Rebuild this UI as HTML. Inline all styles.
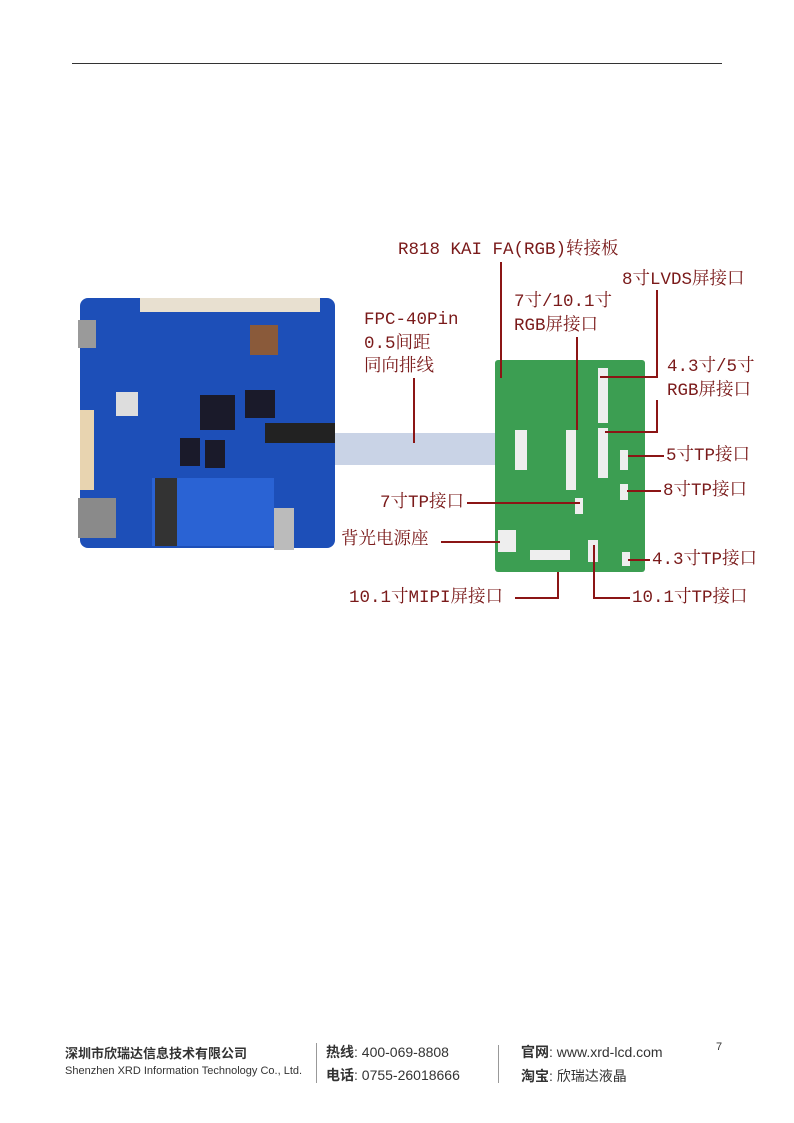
<!DOCTYPE html>
<html><head><meta charset="utf-8"><style>
body{margin:0;background:#fff;}
.pg{position:relative;width:794px;height:1123px;overflow:hidden;background:#fff;font-family:"Liberation Sans","Noto Sans CJK SC",sans-serif;}
.l{position:absolute;color:#7a1a1a;font-family:"Liberation Mono","Noto Serif CJK SC",serif;font-size:17.5px;line-height:20px;white-space:nowrap;}
.a{position:absolute;white-space:nowrap;}
</style></head><body><div class="pg">
<div style="position:absolute;left:72px;top:63px;width:650px;height:1px;background:#333"></div>

<svg style="position:absolute;left:0;top:0" width="794" height="1123">
<rect x="80" y="298" width="255" height="250" rx="8" fill="#1d4fb8"/>
<rect x="78" y="320" width="18" height="28" fill="#9a9a9a"/>
<rect x="78" y="498" width="38" height="40" fill="#8a8a8a"/>
<rect x="80" y="410" width="14" height="80" fill="#e8d4b0"/>
<rect x="140" y="298" width="180" height="14" fill="#e8e0d0"/>
<rect x="152" y="478" width="122" height="68" fill="#2a63d4"/>
<rect x="155" y="478" width="22" height="68" fill="#333"/>
<rect x="200" y="395" width="35" height="35" fill="#1a1a2a"/>
<rect x="245" y="390" width="30" height="28" fill="#1a1a2a"/>
<rect x="180" y="438" width="20" height="28" fill="#1a1a2a"/>
<rect x="205" y="440" width="20" height="28" fill="#1a1a2a"/>
<rect x="265" y="423" width="70" height="20" fill="#222"/>
<rect x="116" y="392" width="22" height="24" fill="#ddd"/>
<rect x="250" y="325" width="28" height="30" fill="#8a5a3a"/>
<rect x="274" y="508" width="20" height="42" fill="#bbb"/>
<rect x="335" y="433" width="180" height="32" fill="#c9d3e6"/>
<rect x="495" y="360" width="150" height="212" rx="3" fill="#3c9e52"/>
<rect x="515" y="430" width="12" height="40" fill="#eee"/>
<rect x="566" y="430" width="10" height="60" fill="#eee"/>
<rect x="598" y="368" width="10" height="55" fill="#eee"/>
<rect x="598" y="428" width="10" height="50" fill="#eee"/>
<rect x="620" y="450" width="8" height="20" fill="#eee"/>
<rect x="620" y="484" width="8" height="16" fill="#eee"/>
<rect x="575" y="498" width="8" height="16" fill="#eee"/>
<rect x="530" y="550" width="40" height="10" fill="#eee"/>
<rect x="498" y="530" width="18" height="22" fill="#eee"/>
<rect x="588" y="540" width="10" height="22" fill="#eee"/>
<rect x="622" y="552" width="8" height="14" fill="#eee"/>
<g stroke="#8b1515" stroke-width="2" fill="none">
<polyline points="501,262 501,378"/>
<polyline points="657,290 657,377 600,377"/>
<polyline points="577,337 577,430"/>
<polyline points="657,400 657,432 605,432"/>
<polyline points="414,378 414,443"/>
<polyline points="628,456 664,456"/>
<polyline points="627,491 661,491"/>
<polyline points="467,503 580,503"/>
<polyline points="441,542 500,542"/>
<polyline points="628,560 650,560"/>
<polyline points="515,598 558,598 558,572"/>
<polyline points="594,545 594,598 630,598"/>
</g>
</svg>

<div class="l" style="left:398px;top:240px">R818 KAI FA(RGB)转接板</div>
<div class="l" style="left:622px;top:270px">8寸LVDS屏接口</div>
<div class="l" style="left:514px;top:292px">7寸/10.1寸</div>
<div class="l" style="left:514px;top:316px">RGB屏接口</div>
<div class="l" style="left:364px;top:310px">FPC-40Pin</div>
<div class="l" style="left:364px;top:334px">0.5间距</div>
<div class="l" style="left:364px;top:357px">同向排线</div>
<div class="l" style="left:667px;top:357px">4.3寸/5寸</div>
<div class="l" style="left:667px;top:381px">RGB屏接口</div>
<div class="l" style="left:666px;top:446px">5寸TP接口</div>
<div class="l" style="left:663px;top:481px">8寸TP接口</div>
<div class="l" style="left:380px;top:493px">7寸TP接口</div>
<div class="l" style="left:341px;top:530px">背光电源座</div>
<div class="l" style="left:652px;top:550px">4.3寸TP接口</div>
<div class="l" style="left:349px;top:588px">10.1寸MIPI屏接口</div>
<div class="l" style="left:632px;top:588px">10.1寸TP接口</div>

<div class="a" style="left:65px;top:1043px;font-size:13px;font-weight:bold;color:#333">深圳市欣瑞达信息技术有限公司</div>
<div class="a" style="left:65px;top:1065px;font-size:11px;color:#333">Shenzhen XRD Information Technology Co., Ltd.</div>
<div style="position:absolute;left:316px;top:1043px;width:1px;height:40px;background:#999"></div>
<div class="a" style="left:326px;top:1042px;font-size:14px;color:#333"><b>热线</b>: 400-069-8808</div>
<div class="a" style="left:326px;top:1065px;font-size:14px;color:#333"><b>电话</b>: 0755-26018666</div>
<div style="position:absolute;left:498px;top:1045px;width:1px;height:38px;background:#999"></div>
<div class="a" style="left:521px;top:1042px;font-size:14px;color:#333"><b>官网</b>: www.xrd-lcd.com</div>
<div class="a" style="left:521px;top:1066px;font-size:14px;color:#333"><b>淘宝</b>: 欣瑞达液晶</div>
<div class="a" style="left:716px;top:1041px;font-size:11px;color:#333">7</div>
</div></body></html>
